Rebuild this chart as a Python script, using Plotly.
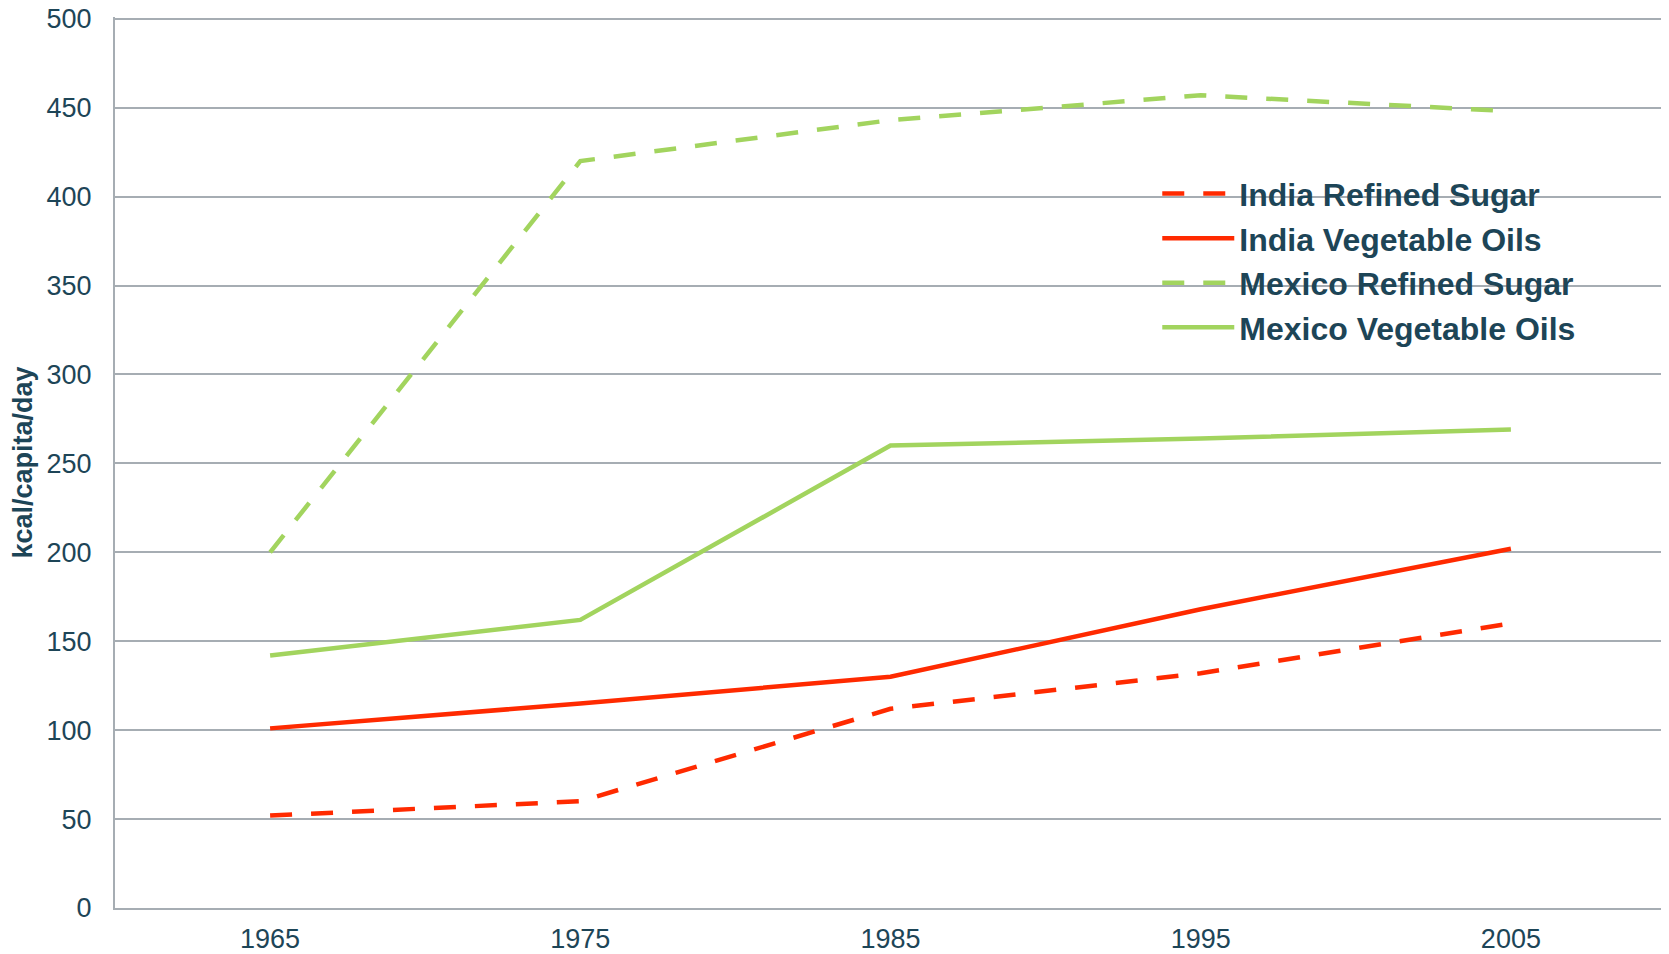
import plotly.graph_objects as go

years = ["1965", "1975", "1985", "1995", "2005"]
india_sugar = [52, 60, 112, 132, 160]
india_oils = [101, 115, 130, 168, 202]
mexico_sugar = [200, 420, 443, 457, 448]
mexico_oils = [142, 162, 260, 264, 269]

RED = "#ff2a00"
GREEN = "#a2d45e"
TEXT = "#1d4557"
GRID = "#a6adb3"
FONT = "Arial, Liberation Sans, sans-serif"

series = [
    ("India Refined Sugar", india_sugar, RED, "22px,19px"),
    ("India Vegetable Oils", india_oils, RED, "solid"),
    ("Mexico Refined Sugar", mexico_sugar, GREEN, "22px,19px"),
    ("Mexico Vegetable Oils", mexico_oils, GREEN, "solid"),
]

fig = go.Figure()
for name, vals, color, dash in series:
    fig.add_trace(go.Scatter(x=years, y=vals, name=name, mode="lines",
                             line=dict(color=color, width=4.5, dash=dash)))

# white panel behind the legend, hiding the gridlines there
fig.add_shape(type="rect", xref="paper", yref="paper",
              x0=0.653, x1=0.964, y0=0.63, y1=0.83, layer="between",
              fillcolor="white", line_width=0)

# page body has an 8px margin, so the figure is a bit smaller than the window
fig.update_layout(
    width=1661, height=946,
    plot_bgcolor="white", paper_bgcolor="white",
    margin=dict(l=107, r=3, t=9, b=46),
    font=dict(family=FONT, color=TEXT, size=27),
    legend=dict(x=0.672, y=0.8325, xanchor="left", yanchor="top",
                bgcolor="rgba(255,255,255,0)", borderwidth=0, itemwidth=72,
                font=dict(size=32, color=TEXT, family=FONT, weight="bold")),
    xaxis=dict(type="category", range=[-0.5, 4.5], showgrid=False, automargin=False,
               showline=True, linecolor=GRID, linewidth=2,
               ticks="outside", ticklen=6, tickcolor="rgba(0,0,0,0)",
               ticklabeloverflow="allow",
               tickfont=dict(size=27, color=TEXT)),
    yaxis=dict(range=[0, 501], tickvals=list(range(0, 501, 50)), showgrid=True,
               gridcolor=GRID, gridwidth=1.5,
               showline=True, linecolor=GRID, linewidth=2, zeroline=False, automargin=False,
               ticks="outside", ticklen=16, tickcolor="rgba(0,0,0,0)",
               ticklabeloverflow="allow",
               tickfont=dict(size=27, color=TEXT),
               title=dict(text="kcal/capita/day", standoff=6,
                          font=dict(size=27, color=TEXT, weight="bold"))),
)

fig.write_html("out.html")
